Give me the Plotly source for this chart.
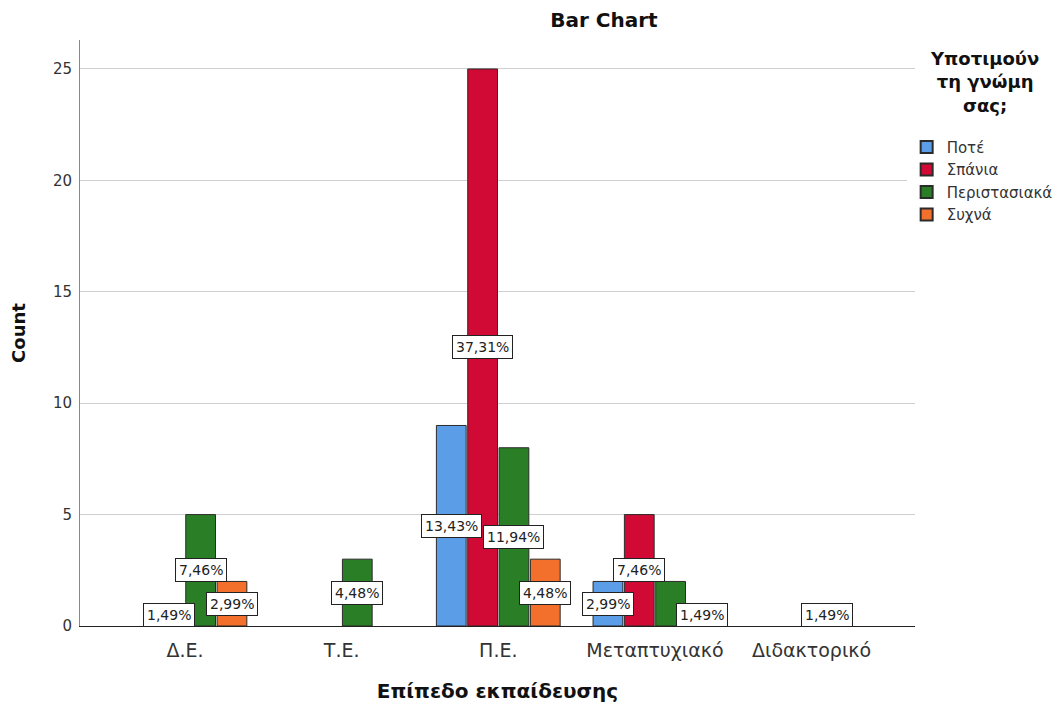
import plotly.graph_objects as go

categories = ["Δ.Ε.", "Τ.Ε.", "Π.Ε.", "Μεταπτυχιακό", "Διδακτορικό"]
series_names = ["Ποτέ", "Σπάνια", "Περιστασιακά", "Συχνά"]
counts = {
    "Ποτέ":         [0, 0, 9, 2, 0],
    "Σπάνια":       [1, 0, 25, 5, 0],
    "Περιστασιακά": [5, 3, 8, 2, 1],
    "Συχνά":        [2, 0, 3, 1, 0],
}
hidden_labels = {("Μεταπτυχιακό", "Περιστασιακά")}
colors = ["#5B9DE6", "#D00A34", "#2A7F26", "#F26F2C"]
legend_title = "Υποτιμούν<br>τη γνώμη<br>σας;"

FONT = "DejaVu Sans, Liberation Sans, Arial"
total = sum(sum(v) for v in counts.values())
offsets = [-0.3, -0.1, 0.1, 0.3]
bar_w = 0.19

fig = go.Figure()
annotations = []
for s, name in enumerate(series_names):
    xs = [i + offsets[s] for i in range(len(categories))]
    ys = [v if v > 0 else None for v in counts[name]]
    fig.add_trace(go.Bar(
        x=xs, y=ys, width=bar_w, name=name,
        marker=dict(color=colors[s], line=dict(color="#2b2b2b", width=1)),
    ))
    for i, v in enumerate(counts[name]):
        if v > 0 and (categories[i], name) not in hidden_labels:
            pct = f"{100 * v / total:.2f}%".replace(".", ",")
            annotations.append(dict(
                x=xs[i], y=v / 2, xref="x", yref="y", text=pct, showarrow=False,
                font=dict(family=FONT, size=14, color="#222"),
                bgcolor="white", bordercolor="#222", borderwidth=1, borderpad=3,
            ))

# legend title, centered over the legend entries
annotations.append(dict(
    x=1.0835, y=0.99, xref="paper", yref="paper", xanchor="center", yanchor="top",
    text=f"<b>{legend_title}</b>", align="center", showarrow=False,
    font=dict(family=FONT, size=18, color="#111"),
))

fig.update_layout(
    width=1047, height=695,
    margin=dict(l=72, r=140, t=32, b=77, autoexpand=False),
    paper_bgcolor="white", plot_bgcolor="white",
    font=dict(family=FONT, size=15, color="#333"),
    title=dict(text="<b>Bar Chart</b>", x=0.6275, xref="paper", xanchor="center",
               y=0.983, yanchor="middle", font=dict(size=20, color="#111")),
    barmode="overlay",
    showlegend=True,
    legend=dict(
        x=0.990, xanchor="left", y=0.845, yanchor="top",
        font=dict(size=15, color="#333"),
        itemsizing="constant", tracegroupgap=0, itemwidth=30,
    ),
    annotations=annotations,
)
fig.update_xaxes(
    range=[-0.67, 4.66],
    tickmode="array", tickvals=list(range(len(categories))), ticktext=categories,
    tickfont=dict(size=19, color="#333"), ticklabelstandoff=7,
    showline=True, linecolor="#222", linewidth=1, showgrid=False, zeroline=False,
    ticks="", title=dict(text="<b>Επίπεδο εκπαίδευσης</b>", font=dict(size=20, color="#111"), standoff=24),
)
fig.update_yaxes(
    range=[0, 26.3], tickvals=[0, 5, 10, 15, 20, 25],
    tickfont=dict(size=15, color="#333"), ticklabelstandoff=4,
    showline=True, linecolor="#888", linewidth=1,
    showgrid=True, gridcolor="#cfcfcf", gridwidth=1, zeroline=False,
    ticks="",
    title=dict(text="<b>Count</b>", font=dict(size=18, color="#111"), standoff=22),
)

fig.write_html("out.html")
